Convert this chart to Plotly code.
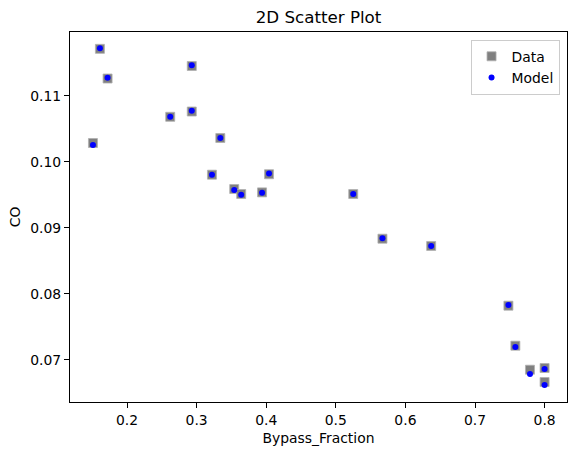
import plotly.graph_objects as go

bypass_fraction = [0.161, 0.172, 0.293, 0.293, 0.262, 0.151, 0.334, 0.322, 0.404, 0.354,
                   0.364, 0.394, 0.525, 0.567, 0.637, 0.748, 0.758, 0.779, 0.800, 0.800]
co_data = [0.1171, 0.1126, 0.1145, 0.1076, 0.1068, 0.10283, 0.10359, 0.09803, 0.0981, 0.09586,
           0.0951, 0.09535, 0.0951, 0.08833, 0.08723, 0.07818, 0.07212, 0.06848, 0.06874, 0.06662]
co_model = [0.1172, 0.1127, 0.1146, 0.1077, 0.1068, 0.10253, 0.10359, 0.09803, 0.0982, 0.0957,
            0.0950, 0.0953, 0.0951, 0.0884, 0.08723, 0.0783, 0.07192, 0.06783, 0.06859, 0.06617]

x_ticks = [0.2, 0.3, 0.4, 0.5, 0.6, 0.7, 0.8]
y_ticks = [0.07, 0.08, 0.09, 0.10, 0.11]

FONT = "DejaVu Sans"
FS = 13.9

fig = go.Figure()
fig.add_trace(go.Scatter(
    x=bypass_fraction, y=co_data, mode="markers", name="Data",
    marker=dict(symbol="square", size=9, color="#808080",
                line=dict(width=0.8, color="#b0b0b0")),
))
fig.add_trace(go.Scatter(
    x=bypass_fraction, y=co_model, mode="markers", name="Model",
    marker=dict(symbol="circle", size=6, color="#0000ff", line=dict(width=0)),
))

axis_common = dict(
    showgrid=False, zeroline=False, showline=True, linecolor="black", linewidth=1,
    mirror=True, ticks="outside", ticklen=5, tickwidth=1, tickcolor="black",
    tickfont=dict(family=FONT, size=FS, color="black"),
)

fig.update_layout(
    width=576, height=455,
    margin=dict(l=70.3, r=9.3, t=32.3, b=52.7),
    paper_bgcolor="white", plot_bgcolor="white",
    font=dict(family=FONT, color="black"),
    title=dict(text="2D Scatter Plot", x=0.553, xanchor="center",
               y=1 - 17.5 / 455, yref="container", yanchor="middle",
               font=dict(family=FONT, size=16.7, color="black")),
    xaxis=dict(range=[0.118, 0.8322], tickvals=x_ticks, tickformat=".1f",
               title=dict(text="Bypass_Fraction", font=dict(family=FONT, size=FS), standoff=6),
               **axis_common),
    yaxis=dict(range=[0.06359, 0.11965], tickvals=y_ticks, tickformat=".2f",
               title=dict(text="CO", font=dict(family=FONT, size=FS), standoff=6),
               **axis_common),
    showlegend=True,
    legend=dict(x=0.985, y=0.979, xanchor="right", yanchor="top",
                bgcolor="rgba(255,255,255,0.8)", bordercolor="#cccccc", borderwidth=1,
                font=dict(family=FONT, size=FS, color="black"),
                itemwidth=30, tracegroupgap=2),
)

fig.write_html("out.html")
